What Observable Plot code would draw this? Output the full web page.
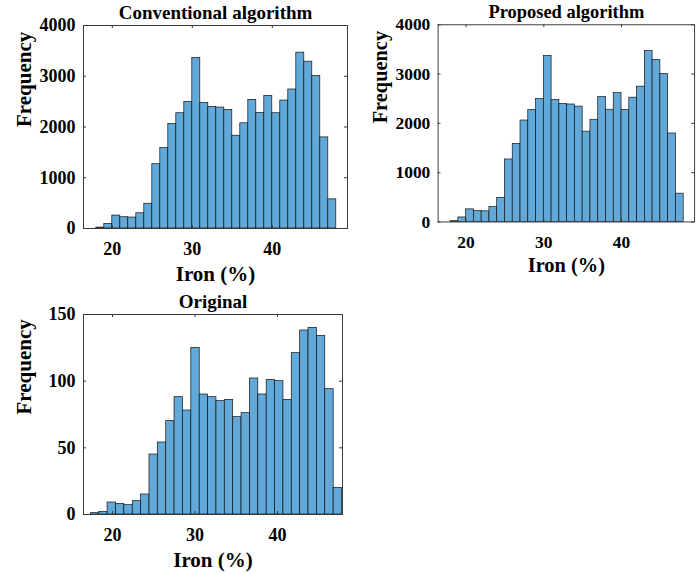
<!DOCTYPE html>
<html><head><meta charset="utf-8">
<script src="https://cdn.jsdelivr.net/npm/d3@7"></script>
<script src="https://cdn.jsdelivr.net/npm/@observablehq/plot@0.6"></script>
<style>
html,body{margin:0;padding:0;background:#fff;overflow:hidden;}
#root{position:relative;width:697px;height:574px;overflow:hidden;background:#fff;}
.panel{position:absolute;}
.panel svg{overflow:visible;}
</style></head><body><div id="root"></div>
<script>
// ---- data ----
const titles = ["Conventional algorithm", "Proposed algorithm", "Original"];
const xLabel = "Iron (%)";
const yLabel = "Frequency";

const algoEdges = [18,19,20,21,22,23,24,25,26,27,28,29,30,31,32,33,34,35,36,37,38,39,40,41,42,43,44,45,46,47,48];
const conventionalCounts = [18,90,255,222,216,300,488,1267,1584,2059,2271,2495,3360,2475,2396,2383,2337,1828,2073,2535,2277,2614,2271,2521,2739,3465,3287,3003,1795,574];
const proposedCounts     = [18,92,256,222,216,302,490,1268,1585,2058,2271,2495,3366,2475,2396,2383,2340,1832,2073,2535,2277,2614,2271,2521,2745,3465,3287,3003,1795,574];

const originalEdges = [17.37,18.39,19.40,20.42,21.43,22.45,23.46,24.48,25.49,26.51,27.52,28.54,29.55,30.57,31.58,32.60,33.61,34.63,35.64,36.66,37.67,38.69,39.70,40.72,41.73,42.75,43.76,44.78,45.79,46.81,47.82];
const originalCounts = [1,2,9,8,7,10,15,45,54,70,88,78,125,90,88,85,86,73,76,102,90,101,100,86,121,138,140,134,94,20];

const xTicks = [20,30,40];
const yTicksAlgo = [0,1000,2000,3000,4000];
const yTicksOrig = [0,50,100,150];

// ---- drawing ----
const FONT = '"Liberation Serif","Times New Roman",serif';
const BAR_FILL = "#62a9da";
const BOX = "#3a3a3a";
const fmt = d3.format("d");

function bins(edges, counts) {
  return counts.map((c, i) => ({x1: edges[i], x2: edges[i + 1], y: c}));
}

function panel({edges, counts, title, xDomain, yDomain, yTicks, width, height, mt, mr, mb, ml, left, top}) {
  const fw = width - ml - mr, fh = height - mt - mb;
  const chart = Plot.plot({
    width, height,
    marginTop: mt, marginRight: mr, marginBottom: mb, marginLeft: ml,
    style: {fontFamily: FONT, fontWeight: "bold", color: "#000", background: "transparent", overflow: "visible"},
    x: {domain: xDomain, label: null},
    y: {domain: yDomain, label: null},
    marks: [
      Plot.rectY(bins(edges, counts), {x1: "x1", x2: "x2", y: "y", fill: BAR_FILL, stroke: "#111", strokeWidth: 0.7}),
      Plot.frame({stroke: BOX, strokeWidth: 1}),
      Plot.axisX({ticks: xTicks, tickFormat: fmt, tickSize: 0, tickPadding: 14, fontSize: 18, label: null}),
      Plot.axisY({ticks: yTicks, tickFormat: fmt, tickSize: 0, tickPadding: 8, fontSize: 18, label: null}),
      Plot.tickX(xTicks, {x: d => d, insetTop: fh - 3, stroke: BOX}),
      Plot.tickX(xTicks, {x: d => d, insetBottom: fh - 3, stroke: BOX}),
      Plot.tickY(yTicks, {y: d => d, insetRight: fw - 3, stroke: BOX}),
      Plot.tickY(yTicks, {y: d => d, insetLeft: fw - 3, stroke: BOX}),
      Plot.text([title], {text: d => d, frameAnchor: "top", lineAnchor: "bottom", dy: -7, fontSize: 19, fontWeight: "bold", fill: "#000"}),
      Plot.text([xLabel], {text: d => d, frameAnchor: "bottom", lineAnchor: "bottom", dy: 52, fontSize: 21, fontWeight: "bold", fill: "#000"}),
      Plot.text([yLabel], {text: d => d, frameAnchor: "left", lineAnchor: "middle", rotate: -90, dx: -59, fontSize: 21, fontWeight: "bold", fill: "#000"})
    ]
  });
  const div = document.createElement("div");
  div.className = "panel";
  div.style.left = left + "px";
  div.style.top = top + "px";
  div.appendChild(chart);
  document.getElementById("root").appendChild(div);
}

panel({edges: algoEdges, counts: conventionalCounts, title: titles[0], xDomain: [16.4, 49.4], yDomain: [0, 4000], yTicks: yTicksAlgo,
       width: 350, height: 290, mt: 25, mr: 3, mb: 62, ml: 83, left: 0, top: 0});
panel({edges: algoEdges, counts: proposedCounts, title: titles[1], xDomain: [16.4, 49.4], yDomain: [0, 4000], yTicks: yTicksAlgo,
       width: 350, height: 290, mt: 25, mr: 3, mb: 62, ml: 83, left: 357, top: 0});
panel({edges: originalEdges, counts: originalCounts, title: titles[2], xDomain: [16.48, 47.88], yDomain: [0, 150], yTicks: yTicksOrig,
       width: 345, height: 284, mt: 24, mr: 3, mb: 60, ml: 83, left: 0, top: 290});
</script></body></html>
